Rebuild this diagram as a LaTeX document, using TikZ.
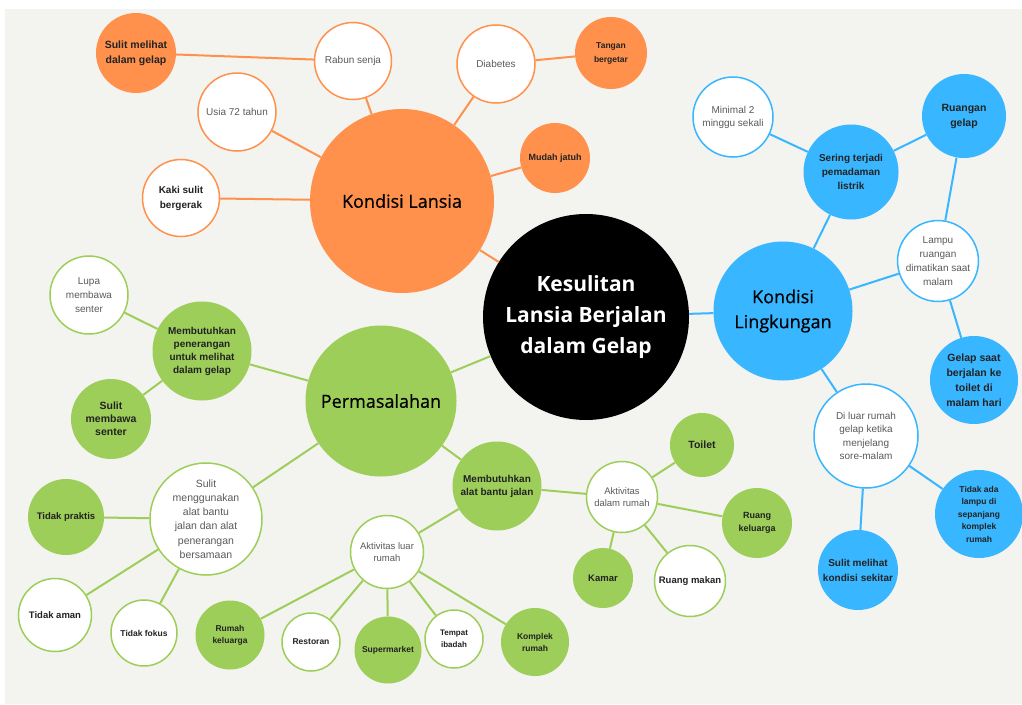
\documentclass[tikz,border=0pt]{standalone}
\usepackage{fontspec}
\setmainfont{Liberation Sans}
\newfontfamily\headfont{Open Sans}
\newfontfamily\topicfont[FakeBold=0.6]{Open Sans}
\usepackage{xcolor}
\usepackage{tikz}

\definecolor{lansia}{HTML}{FF914D}
\definecolor{lingk}{HTML}{38B6FF}
\definecolor{masalah}{HTML}{9ECE5A}
\definecolor{paper}{HTML}{F3F3EF}
\definecolor{inkdark}{HTML}{222222}
\definecolor{inkgray}{HTML}{5A5A5A}

\begin{document}
\begin{tikzpicture}[
    x=1pt, y=-1pt,
    bubble/.style={circle, inner sep=0pt, align=center},
    hub/.style={bubble, fill=black, text=white, font=\headfont\bfseries\fontsize{21}{31}\selectfont},
    topic/.style={bubble, fill=#1, text=black, font=\topicfont\fontsize{18}{25}\selectfont},
    full/.style={bubble, fill=#1, text=inkdark, font=\bfseries\fontsize{10}{13}\selectfont},
    ring/.style={bubble, draw=#1, line width=1.5pt, fill=white, text=inkgray, font=\fontsize{10}{13.5}\selectfont},
    link/.style={draw=#1, line width=2pt}
]
    \useasboundingbox (0,0) rectangle (1022,704);
    \fill[white] (0,0) rectangle (1022,704);
    \fill[paper] (5,9) rectangle (1022,704);

    % center
    \node[hub, minimum size=206pt] (hub) at (586,317) {Kesulitan\\Lansia Berjalan\\dalam Gelap};

    % kondisi lansia
    \node[topic=lansia, minimum size=184pt] (lansia) at (402,201) {Kondisi Lansia};
    \node[ring=lansia, minimum size=77pt] (rabun) at (353,61) {Rabun senja};
    \node[full=lansia, minimum size=80pt, font=\bfseries\fontsize{10.5}{15}\selectfont] (gelapmata) at (136,53) {Sulit melihat\\dalam gelap};
    \node[ring=lansia, minimum size=78pt] (usia) at (237,112) {Usia 72 tahun};
    \node[ring=lansia, minimum size=77pt, text=inkdark, font=\bfseries\fontsize{10}{15}\selectfont] (kaki) at (181,198) {Kaki sulit\\bergerak};
    \node[ring=lansia, minimum size=78pt] (diabetes) at (496,64) {Diabetes};
    \node[full=lansia, minimum size=72pt, font=\bfseries\fontsize{8.5}{14}\selectfont] (tangan) at (611,53) {Tangan\\bergetar};
    \node[full=lansia, minimum size=70pt, font=\bfseries\fontsize{9}{11}\selectfont] (jatuh) at (555,158) {Mudah jatuh};

    % kondisi lingkungan
    \node[topic=lingk, minimum size=139pt] (lingk) at (783,311) {Kondisi\\Lingkungan};
    \node[ring=lingk, minimum size=80pt, font=\fontsize{10}{13}\selectfont] (minimal) at (733,117) {Minimal 2\\minggu sekali};
    \node[full=lingk, minimum size=95pt, font=\bfseries\fontsize{10}{14}\selectfont] (sering) at (851,172) {Sering terjadi\\pemadaman\\listrik};
    \node[full=lingk, minimum size=84pt, font=\bfseries\fontsize{10.5}{15}\selectfont] (ruangan) at (964,116) {Ruangan\\gelap};
    \node[ring=lingk, minimum size=80pt, font=\fontsize{10}{14}\selectfont] (lampu) at (938,261) {Lampu\\ruangan\\dimatikan saat\\malam};
    \node[full=lingk, minimum size=88pt, font=\bfseries\fontsize{10.5}{15}\selectfont] (toiletmalam) at (974,380) {Gelap saat\\berjalan ke\\toilet di\\malam hari};
    \node[ring=lingk, minimum size=104pt] (diluar) at (866,436) {Di luar rumah\\gelap ketika\\menjelang\\sore-malam};
    \node[full=lingk, minimum size=88pt, font=\bfseries\fontsize{8.5}{12.5}\selectfont] (tanpalampu) at (979,514) {Tidak ada\\lampu di\\sepanjang\\komplek\\rumah};
    \node[full=lingk, minimum size=80pt, font=\bfseries\fontsize{10}{15}\selectfont] (sekitar) at (858,570) {Sulit melihat\\kondisi sekitar};

    % permasalahan
    \node[topic=masalah, minimum size=151pt] (masalah) at (381,401) {Permasalahan};
    \node[ring=masalah, minimum size=78pt, font=\fontsize{10}{14}\selectfont] (lupa) at (89,295) {Lupa\\membawa\\senter};
    \node[full=masalah, minimum size=99pt] (penerangan) at (202,351) {Membutuhkan\\penerangan\\untuk melihat\\dalam gelap};
    \node[full=masalah, minimum size=80pt, font=\bfseries\fontsize{10.5}{13}\selectfont] (bawasenter) at (111,419) {Sulit\\membawa\\senter};
    \node[ring=masalah, minimum size=112pt, font=\fontsize{10.5}{14.3}\selectfont] (bersamaan) at (206,519) {Sulit\\menggunakan\\alat bantu\\jalan dan alat\\penerangan\\bersamaan};
    \node[full=masalah, minimum size=76pt, font=\bfseries\fontsize{9.5}{12}\selectfont] (praktis) at (66,517) {Tidak praktis};
    \node[ring=masalah, minimum size=73pt, text=inkdark, font=\bfseries\fontsize{9.5}{12}\selectfont] (aman) at (55,615) {Tidak aman};
    \node[ring=masalah, minimum size=66pt, text=inkdark, font=\bfseries\fontsize{8.5}{12}\selectfont] (fokus) at (144,633) {Tidak fokus};
    \node[full=masalah, minimum size=89pt] (alatbantu) at (497,486) {Membutuhkan\\alat bantu jalan};
    \node[ring=masalah, minimum size=73pt, font=\fontsize{9.5}{12}\selectfont] (luar) at (387,552) {Aktivitas luar\\rumah};
    \node[full=masalah, minimum size=69pt, font=\bfseries\fontsize{8.5}{12}\selectfont] (rumahkel) at (230,635) {Rumah\\keluarga};
    \node[ring=masalah, minimum size=58pt, text=inkdark, font=\bfseries\fontsize{8.5}{12}\selectfont] (restoran) at (311,642) {Restoran};
    \node[full=masalah, minimum size=67pt, font=\bfseries\fontsize{8.5}{12}\selectfont] (supermarket) at (388,650) {Supermarket};
    \node[ring=masalah, minimum size=58pt, text=inkdark, font=\bfseries\fontsize{8}{12}\selectfont] (ibadah) at (454,639) {Tempat\\ibadah};
    \node[full=masalah, minimum size=68pt, font=\bfseries\fontsize{8.5}{12}\selectfont] (komplek) at (535,642) {Komplek\\rumah};
    \node[ring=masalah, minimum size=71pt, font=\fontsize{9.5}{12}\selectfont] (dalam) at (622,497) {Aktivitas\\dalam rumah};
    \node[full=masalah, minimum size=64pt, font=\bfseries\fontsize{10.5}{12}\selectfont] (toilet) at (702,445) {Toilet};
    \node[full=masalah, minimum size=70pt, font=\bfseries\fontsize{9}{13}\selectfont] (ruangkel) at (757,523) {Ruang\\keluarga};
    \node[full=masalah, minimum size=60pt, font=\bfseries\fontsize{9.5}{12}\selectfont] (kamar) at (603,578) {Kamar};
    \node[ring=masalah, minimum size=71pt, text=inkdark, font=\bfseries\fontsize{9.5}{12}\selectfont] (makan) at (690,581) {Ruang makan};

    % connectors
    \draw[link=lansia] (hub) -- (lansia);
    \draw[link=lansia] (lansia) -- (rabun);
    \draw[link=lansia] (rabun) -- (gelapmata);
    \draw[link=lansia] (lansia) -- (usia);
    \draw[link=lansia] (lansia) -- (kaki);
    \draw[link=lansia] (lansia) -- (diabetes);
    \draw[link=lansia] (diabetes) -- (tangan);
    \draw[link=lansia] (lansia) -- (jatuh);

    \draw[link=lingk] (hub) -- (lingk);
    \draw[link=lingk] (lingk) -- (sering);
    \draw[link=lingk] (sering) -- (minimal);
    \draw[link=lingk] (sering) -- (ruangan);
    \draw[link=lingk] (ruangan) -- (lampu);
    \draw[link=lingk] (lingk) -- (lampu);
    \draw[link=lingk] (lampu) -- (toiletmalam);
    \draw[link=lingk] (lingk) -- (diluar);
    \draw[link=lingk] (diluar) -- (tanpalampu);
    \draw[link=lingk] (diluar) -- (sekitar);

    \draw[link=masalah] (hub) -- (masalah);
    \draw[link=masalah] (masalah) -- (penerangan);
    \draw[link=masalah] (penerangan) -- (lupa);
    \draw[link=masalah] (penerangan) -- (bawasenter);
    \draw[link=masalah] (masalah) -- (bersamaan);
    \draw[link=masalah] (bersamaan) -- (praktis);
    \draw[link=masalah] (bersamaan) -- (aman);
    \draw[link=masalah] (bersamaan) -- (fokus);
    \draw[link=masalah] (masalah) -- (alatbantu);
    \draw[link=masalah] (alatbantu) -- (luar);
    \draw[link=masalah] (alatbantu) -- (dalam);
    \draw[link=masalah] (luar) -- (rumahkel);
    \draw[link=masalah] (luar) -- (restoran);
    \draw[link=masalah] (luar) -- (supermarket);
    \draw[link=masalah] (luar) -- (ibadah);
    \draw[link=masalah] (luar) -- (komplek);
    \draw[link=masalah] (dalam) -- (toilet);
    \draw[link=masalah] (dalam) -- (ruangkel);
    \draw[link=masalah] (dalam) -- (kamar);
    \draw[link=masalah] (dalam) -- (makan);
\end{tikzpicture}
\end{document}
